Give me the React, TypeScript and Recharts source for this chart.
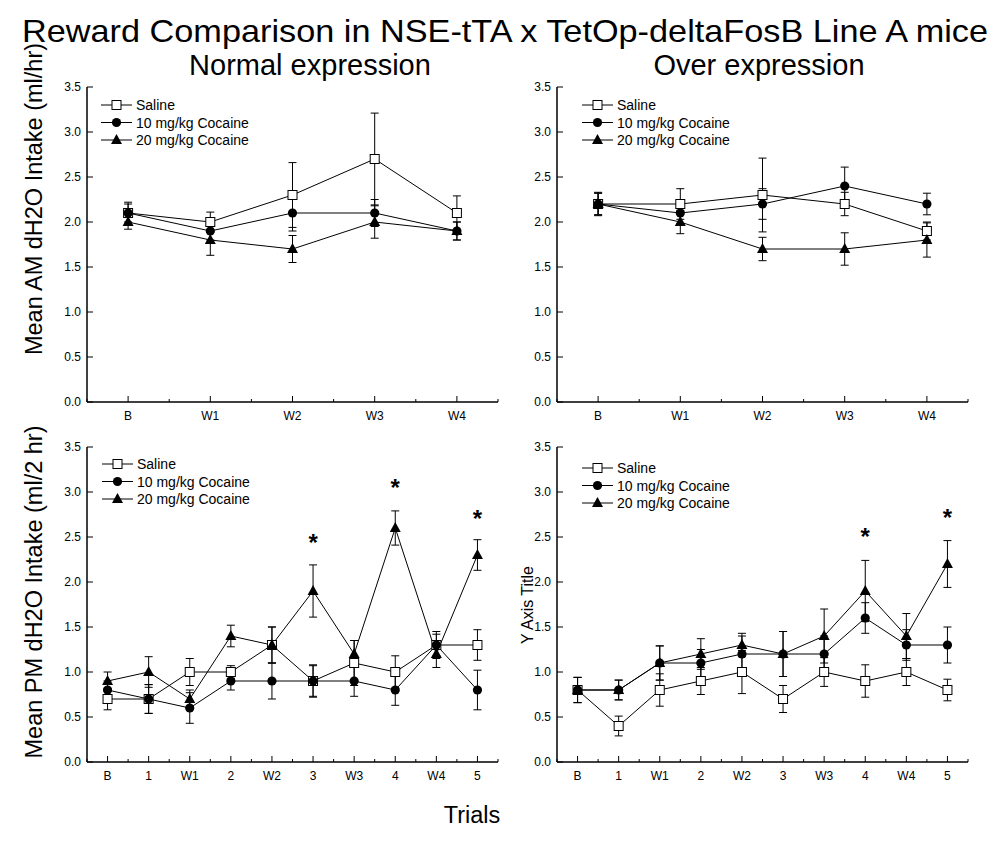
import React from "react";
import { ComposedChart, Line, XAxis, YAxis, ErrorBar, Legend } from "recharts";

// trial labels
const amTrials = ["B", "W1", "W2", "W3", "W4"];
const pmTrials = ["B", "1", "W1", "2", "W2", "3", "W3", "4", "W4", "5"];
const yTicks = [0, 0.25, 0.5, 0.75, 1, 1.25, 1.5, 1.75, 2, 2.25, 2.5, 2.75, 3, 3.25, 3.5];

// Normal expression, AM
const normalAmSaline = [2.1, 2.0, 2.3, 2.7, 2.1];
const normalAmSalineErr = [0.12, 0.11, 0.36, 0.51, 0.19];
const normalAm10 = [2.1, 1.9, 2.1, 2.1, 1.9];
const normalAm10Err = [0.1, 0.1, 0.2, 0.15, 0.1];
const normalAm20 = [2.0, 1.8, 1.7, 2.0, 1.9];
const normalAm20Err = [0.08, 0.17, 0.15, 0.18, 0.1];

// Over expression, AM
const overAmSaline = [2.2, 2.2, 2.3, 2.2, 1.9];
const overAmSalineErr = [0.13, 0.17, 0.41, 0.13, 0.1];
const overAm10 = [2.2, 2.1, 2.2, 2.4, 2.2];
const overAm10Err = [0.12, 0.12, 0.17, 0.21, 0.12];
const overAm20 = [2.2, 2.0, 1.7, 1.7, 1.8];
const overAm20Err = [0.12, 0.13, 0.13, 0.18, 0.19];

// Normal expression, PM
const normalPmSaline = [0.7, 0.7, 1.0, 1.0, 1.3, 0.9, 1.1, 1.0, 1.3, 1.3];
const normalPmSalineErr = [0.12, 0.16, 0.15, 0.07, 0.2, 0.18, 0.25, 0.18, 0.15, 0.17];
const normalPm10 = [0.8, 0.7, 0.6, 0.9, 0.9, 0.9, 0.9, 0.8, 1.3, 0.8];
const normalPm10Err = [0.1, 0.16, 0.17, 0.1, 0.2, 0.17, 0.17, 0.17, 0.12, 0.22];
const normalPm20 = [0.9, 1.0, 0.7, 1.4, 1.3, 1.9, 1.2, 2.6, 1.2, 2.3];
const normalPm20Err = [0.1, 0.17, 0.1, 0.12, 0.2, 0.29, 0.15, 0.19, 0.15, 0.17];
const normalPmStars = [null, null, null, null, null, 2.5, null, 3.11, null, 2.77];

// Over expression, PM
const overPmSaline = [0.8, 0.4, 0.8, 0.9, 1.0, 0.7, 1.0, 0.9, 1.0, 0.8];
const overPmSalineErr = [0.14, 0.11, 0.18, 0.15, 0.24, 0.15, 0.16, 0.18, 0.15, 0.12];
const overPm10 = [0.8, 0.8, 1.1, 1.1, 1.2, 1.2, 1.2, 1.6, 1.3, 1.3];
const overPm10Err = [0.14, 0.11, 0.19, 0.15, 0.2, 0.25, 0.2, 0.17, 0.17, 0.2];
const overPm20 = [0.8, 0.8, 1.1, 1.2, 1.3, 1.2, 1.4, 1.9, 1.4, 2.2];
const overPm20Err = [0.14, 0.11, 0.19, 0.17, 0.13, 0.25, 0.3, 0.34, 0.25, 0.26];
const overPmStars = [null, null, null, null, null, null, null, 2.56, null, 2.78];

const FONT = '"Liberation Sans", Arial, sans-serif';
const PLOT_W = 411;

const squareDot = (p: any) => {
  const { cx, cy, index } = p;
  if (cy == null) return <g key={`s-${index}`} />;
  return <rect key={`s-${index}`} x={cx - 4.5} y={cy - 4.5} width={9} height={9} fill="#fff" stroke="#000" strokeWidth={1} />;
};
const circleDot = (p: any) => {
  const { cx, cy, index } = p;
  if (cy == null) return <g key={`c-${index}`} />;
  return <circle key={`c-${index}`} cx={cx} cy={cy} r={4.6} fill="#000" />;
};
const triangleDot = (p: any) => {
  const { cx, cy, index } = p;
  if (cy == null) return <g key={`t-${index}`} />;
  return <polygon key={`t-${index}`} points={`${cx},${cy - 6} ${cx - 5.5},${cy + 4} ${cx + 5.5},${cy + 4}`} fill="#000" />;
};
const starDot = (p: any) => {
  const { cx, cy, index, value } = p;
  if (value == null || cy == null) return <g key={`a-${index}`} />;
  return (
    <text key={`a-${index}`} x={cx} y={cy + 13.8} textAnchor="middle" fontSize={24} fontWeight="bold" fill="#000">
      *
    </text>
  );
};

const YTick = (props: any) => {
  const { x, y, payload } = props;
  const v = payload.value as number;
  const major = Math.abs(v * 2 - Math.round(v * 2)) < 1e-6;
  return (
    <g>
      <line x1={x} x2={x + (major ? 6 : 3)} y1={y} y2={y} stroke="#000" />
      {major && (
        <text x={x - 6} y={y + 4.3} textAnchor="end" fontSize={12} fill="#000">
          {v.toFixed(1)}
        </text>
      )}
    </g>
  );
};

const makeXTick = (step: number) => (props: any) => {
  const { x, y, payload, index } = props;
  return (
    <g>
      <line x1={x} x2={x} y1={y} y2={y - 6} stroke="#000" />
      <line x1={x + step / 2} x2={x + step / 2} y1={y} y2={y - 3} stroke="#000" />
      {index === 0 && <line x1={x - step / 2} x2={x - step / 2} y1={y} y2={y - 3} stroke="#000" />}
      <text x={x} y={y + 17.5} textAnchor="middle" fontSize={12} fill="#000">
        {payload.value}
      </text>
    </g>
  );
};

const legendItems = [
  { label: "Saline", dot: squareDot },
  { label: "10 mg/kg Cocaine", dot: circleDot },
  { label: "20 mg/kg Cocaine", dot: triangleDot },
];

const LegendBox = ({ gap }: { gap: number }) => (
  <svg width={160} height={56} style={{ display: "block" }}>
    {legendItems.map((it, i) => {
      const y = 8 + i * 17.5;
      return (
        <g key={it.label}>
          <line x1={0} x2={31} y1={y} y2={y} stroke="#000" />
          {it.dot({ cx: 15.5, cy: y, index: i })}
          <text x={gap} y={y + 5} fontSize={14} fill="#000" fontFamily={FONT}>
            {it.label}
          </text>
        </g>
      );
    })}
  </svg>
);

type PanelProps = {
  trials: string[];
  saline: number[];
  salineErr: number[];
  c10: number[];
  c10Err: number[];
  c20: number[];
  c20Err: number[];
  stars?: (number | null)[];
  left: number;
  top: number;
  chartWidth: number;
  legendLeft: number;
  legendTop: number;
};

function Panel(p: PanelProps) {
  const data = p.trials.map((t, i) => ({
    trial: t,
    saline: p.saline[i],
    salineErr: p.salineErr[i],
    c10: p.c10[i],
    c10Err: p.c10Err[i],
    c20: p.c20[i],
    c20Err: p.c20Err[i],
    star: p.stars ? p.stars[i] : null,
  }));
  const step = PLOT_W / p.trials.length;
  const XTick = makeXTick(step);
  return (
    <div style={{ position: "absolute", left: p.left, top: p.top }}>
      <ComposedChart
        width={p.chartWidth}
        height={430}
        data={data}
        margin={{ top: 87, left: 86, right: p.chartWidth - 87 - PLOT_W, bottom: 27 }}
      >
        <XAxis
          dataKey="trial"
          type="category"
          height={1}
          interval={0}
          padding={{ left: step / 2, right: step / 2 }}
          tickSize={0}
          tickMargin={0}
          tickLine={false}
          tick={XTick}
          axisLine={{ stroke: "#000", strokeWidth: 1.5 }}
        />
        <YAxis
          type="number"
          domain={[0, 3.5]}
          ticks={yTicks}
          width={1}
          tickSize={0}
          tickMargin={0}
          tickLine={false}
          tick={YTick}
          allowDataOverflow
          axisLine={{ stroke: "#000", strokeWidth: 1.5 }}
        />
        <Legend
          layout="vertical"
          align="center"
          verticalAlign="middle"
          wrapperStyle={{ position: "absolute", left: p.legendLeft, top: p.legendTop, width: 160, height: 56 }}
          content={() => <LegendBox gap={35} />}
        />
        <Line dataKey="saline" stroke="#000" strokeWidth={1} dot={squareDot} activeDot={false} isAnimationActive={false} legendType="none">
          <ErrorBar dataKey="salineErr" width={4} stroke="#000" strokeWidth={1} direction="y" isAnimationActive={false} />
        </Line>
        <Line dataKey="c10" stroke="#000" strokeWidth={1} dot={circleDot} activeDot={false} isAnimationActive={false} legendType="none">
          <ErrorBar dataKey="c10Err" width={4} stroke="#000" strokeWidth={1} direction="y" isAnimationActive={false} />
        </Line>
        <Line dataKey="c20" stroke="#000" strokeWidth={1} dot={triangleDot} activeDot={false} isAnimationActive={false} legendType="none">
          <ErrorBar dataKey="c20Err" width={4} stroke="#000" strokeWidth={1} direction="y" isAnimationActive={false} />
        </Line>
        {p.stars && (
          <Line dataKey="star" stroke="none" dot={starDot} activeDot={false} isAnimationActive={false} legendType="none" />
        )}
      </ComposedChart>
    </div>
  );
}

export default function App() {
  return (
    <div
      style={{
        position: "absolute",
        left: 0,
        top: 0,
        width: 992,
        height: 850,
        background: "#fff",
        fontFamily: FONT,
      }}
    >
      <svg width={992} height={850} style={{ position: "absolute", left: 0, top: 0 }}>
        <text x={505} y={42} textAnchor="middle" fontSize={32} fill="#000" textLength={966} lengthAdjust="spacingAndGlyphs">
          Reward Comparison in NSE-tTA x TetOp-deltaFosB Line A mice
        </text>
        <text x={310} y={75} textAnchor="middle" fontSize={29} fill="#000">
          Normal expression
        </text>
        <text x={759} y={75} textAnchor="middle" fontSize={29} fill="#000">
          Over expression
        </text>
        <text transform="translate(41.5,199) rotate(-90)" textAnchor="middle" fontSize={23.5} fill="#000">
          Mean AM dH2O Intake (ml/hr)
        </text>
        <text transform="translate(41.5,592) rotate(-90)" textAnchor="middle" fontSize={23.5} fill="#000">
          Mean PM dH2O Intake (ml/2 hr)
        </text>
        <text transform="translate(533,605) rotate(-90)" textAnchor="middle" fontSize={16} fill="#000">
          Y Axis Title
        </text>
        <text x={472} y={823} textAnchor="middle" fontSize={23.5} fill="#000">
          Trials
        </text>
      </svg>
      <Panel
        trials={amTrials}
        saline={normalAmSaline}
        salineErr={normalAmSalineErr}
        c10={normalAm10}
        c10Err={normalAm10Err}
        c20={normalAm20}
        c20Err={normalAm20Err}
        left={0}
        top={0}
        chartWidth={500}
        legendLeft={101}
        legendTop={97}
      />
      <Panel
        trials={amTrials}
        saline={overAmSaline}
        salineErr={overAmSalineErr}
        c10={overAm10}
        c10Err={overAm10Err}
        c20={overAm20}
        c20Err={overAm20Err}
        left={470}
        top={0}
        chartWidth={510}
        legendLeft={112}
        legendTop={97}
      />
      <Panel
        trials={pmTrials}
        saline={normalPmSaline}
        salineErr={normalPmSalineErr}
        c10={normalPm10}
        c10Err={normalPm10Err}
        c20={normalPm20}
        c20Err={normalPm20Err}
        stars={normalPmStars}
        left={0}
        top={360}
        chartWidth={500}
        legendLeft={102}
        legendTop={96}
      />
      <Panel
        trials={pmTrials}
        saline={overPmSaline}
        salineErr={overPmSalineErr}
        c10={overPm10}
        c10Err={overPm10Err}
        c20={overPm20}
        c20Err={overPm20Err}
        stars={overPmStars}
        left={470}
        top={360}
        chartWidth={510}
        legendLeft={112}
        legendTop={100}
      />
    </div>
  );
}
